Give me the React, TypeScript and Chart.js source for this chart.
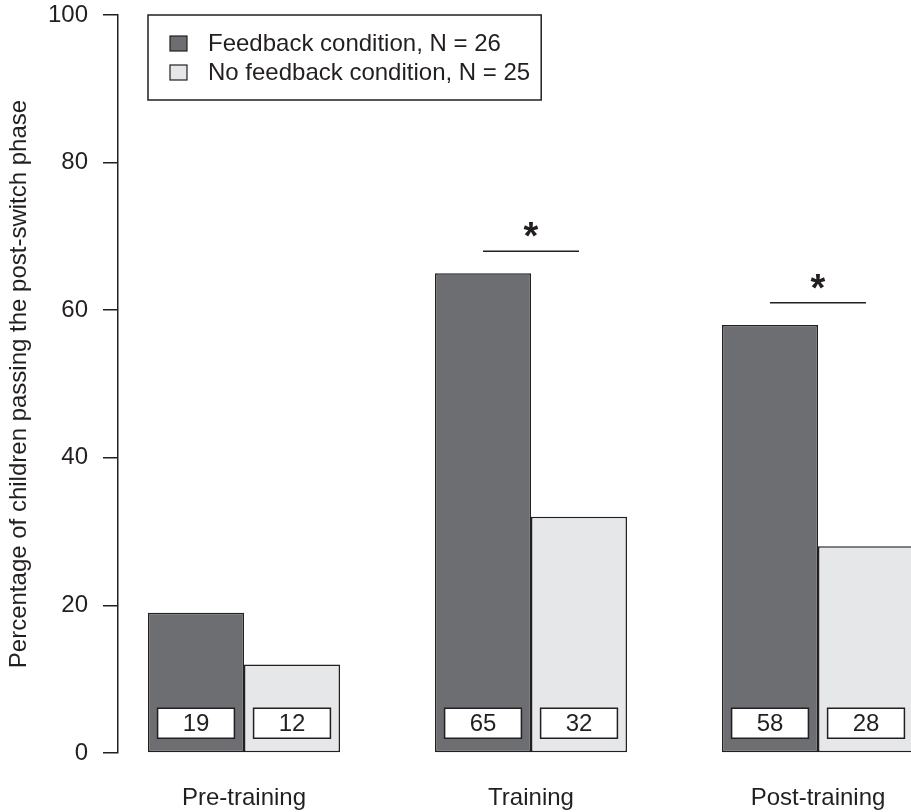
import { useEffect, useRef } from "react";
import { Chart, registerables } from "chart.js";

Chart.register(...registerables);

const categories = ["Pre-training", "Training", "Post-training"];
const feedbackValues = [19, 65, 58];
const noFeedbackValues = [12, 32, 28];
const seriesLabels = ["Feedback condition, N = 26", "No feedback condition, N = 25"];
const significant = [false, true, true];
const yTicks = [0, 20, 40, 60, 80, 100];
const yTitle = "Percentage of children passing the post-switch phase";

const FONT = '"Liberation Sans", Arial, Helvetica, sans-serif';
const INK = "#231f20";
const DARK = "#6d6e71";
const LIGHT = "#e6e7e8";
const seriesColors = [DARK, LIGHT];
const seriesValues = [feedbackValues, noFeedbackValues];

const annotations = {
  id: "annotations",
  afterDatasetsDraw(chart: any) {
    const ctx = chart.ctx as CanvasRenderingContext2D;
    const yScale = chart.scales.y;
    const metas = [chart.getDatasetMeta(0), chart.getDatasetMeta(1)];
    ctx.save();
    // value boxes
    metas.forEach((meta: any, di: number) => {
      meta.data.forEach((el: any, i: number) => {
        const { x, width, base } = el.getProps(["x", "width", "base"], true);
        const bw = width * 0.8;
        const bh = 30;
        const bx = x - bw / 2;
        const by = base - 14 - bh;
        ctx.fillStyle = "#ffffff";
        ctx.fillRect(bx, by, bw, bh);
        ctx.strokeStyle = INK;
        ctx.lineWidth = 1.5;
        ctx.strokeRect(bx, by, bw, bh);
        ctx.fillStyle = INK;
        ctx.font = `24px ${FONT}`;
        ctx.textAlign = "center";
        ctx.textBaseline = "middle";
        ctx.fillText(String(seriesValues[di][i]), x, by + bh / 2 + 1);
      });
    });
    // significance markers
    significant.forEach((sig, i) => {
      if (!sig) return;
      const a = metas[0].data[i];
      const b = metas[1].data[i];
      const top = Math.max(feedbackValues[i], noFeedbackValues[i]) + 3;
      const ly = yScale.getPixelForValue(top);
      ctx.strokeStyle = INK;
      ctx.lineWidth = 1.5;
      ctx.beginPath();
      ctx.moveTo(a.x, ly);
      ctx.lineTo(b.x, ly);
      ctx.stroke();
      ctx.fillStyle = INK;
      ctx.font = `bold 38px ${FONT}`;
      ctx.textAlign = "center";
      ctx.textBaseline = "alphabetic";
      ctx.fillText("*", (a.x + b.x) / 2, ly - 2);
    });
    // legend
    const first = metas[0].data[0];
    const left = first.x - first.width / 2;
    const top = chart.chartArea.top;
    ctx.font = `24px ${FONT}`;
    const textW = Math.max(...seriesLabels.map((s) => ctx.measureText(s).width));
    const boxW = 60 + textW + 11;
    const boxH = 85;
    ctx.fillStyle = "#ffffff";
    ctx.fillRect(left, top, boxW, boxH);
    ctx.strokeStyle = INK;
    ctx.lineWidth = 1.5;
    ctx.strokeRect(left, top, boxW, boxH);
    seriesLabels.forEach((label, k) => {
      const cy = top + 28.5 + k * 29;
      ctx.fillStyle = seriesColors[k];
      ctx.fillRect(left + 22, cy - 7.5, 17, 15);
      ctx.strokeStyle = INK;
      ctx.lineWidth = 1.2;
      ctx.strokeRect(left + 22, cy - 7.5, 17, 15);
      ctx.fillStyle = INK;
      ctx.textAlign = "left";
      ctx.textBaseline = "middle";
      ctx.fillText(label, left + 60, cy + 1);
    });
    ctx.restore();
  },
};

export default function App() {
  const ref = useRef<HTMLCanvasElement | null>(null);
  useEffect(() => {
    if (!ref.current) return;
    const chart = new Chart(ref.current, {
      type: "bar",
      data: {
        datasets: seriesLabels.map((label, k) => ({
          label,
          data: seriesValues[k].map((v, i) => ({ x: i + 1, y: v })),
          backgroundColor: seriesColors[k],
          borderColor: INK,
          borderWidth: 1.5,
          borderSkipped: false,
          categoryPercentage: 0.669,
          barPercentage: 1,
        })),
      },
      options: {
        responsive: false,
        animation: false,
        devicePixelRatio: 1,
        layout: { padding: { top: 15, bottom: 0, left: 0, right: 0 } },
        plugins: {
          legend: { display: false },
          tooltip: { enabled: false },
        },
        scales: {
          x: {
            type: "linear",
            min: 0.561,
            max: 3.324,
            offset: false,
            grid: { display: false },
            border: { display: false },
            afterBuildTicks: (scale: any) => {
              scale.ticks = categories.map((_, i) => ({ value: i + 1 }));
            },
            afterFit: (scale: any) => {
              scale.height = 59;
              scale.paddingLeft = 0;
              scale.paddingRight = 0;
            },
            ticks: {
              autoSkip: false,
              maxRotation: 0,
              padding: 23,
              color: INK,
              font: { family: FONT, size: 24 },
              callback: (v: any) => categories[Number(v) - 1] ?? "",
            },
          },
          y: {
            min: 0,
            max: 100,
            afterBuildTicks: (scale: any) => {
              scale.ticks = yTicks.map((v) => ({ value: v }));
            },
            afterFit: (scale: any) => {
              scale.width = 118;
              scale.paddingTop = 0;
              scale.paddingBottom = 0;
            },
            grid: {
              drawOnChartArea: false,
              drawTicks: true,
              tickLength: 15,
              color: INK,
              lineWidth: 1.5,
            },
            border: { display: true, color: INK, width: 1.5 },
            ticks: {
              padding: 15,
              color: INK,
              font: { family: FONT, size: 24 },
            },
            title: {
              display: true,
              text: yTitle,
              color: INK,
              font: { family: FONT, size: 24 },
              padding: { top: 5, bottom: 0 },
            },
          },
        },
      },
      plugins: [annotations],
    });
    return () => chart.destroy();
  }, []);
  return (
    <div style={{ position: "absolute", left: 0, top: 0, width: 911, height: 812, overflow: "hidden", background: "#fff" }}>
      <canvas ref={ref} width={911} height={812} />
    </div>
  );
}
